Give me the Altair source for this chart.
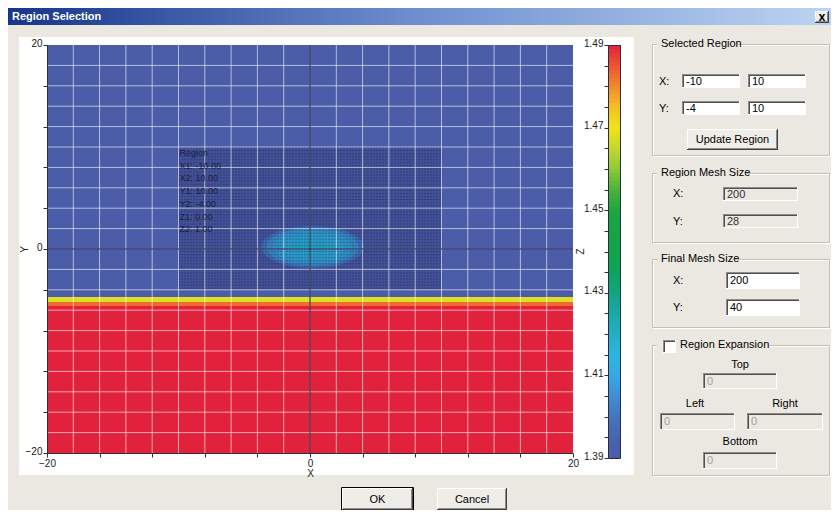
import altair as alt
import numpy as np
import pandas as pd

# ---------------- data ----------------
x_domain = [-20, 20]
y_domain = [-20, 20]
axis_ticks = list(range(-20, 21, 2))
grid_lines = list(range(-18, 19, 2))

band_top = [20, -4.7, -5.2, -5.6]
band_bottom = [-4.7, -5.2, -5.6, -20]
band_value = [1.39, 1.468, 1.483, 1.49]

blob_x = 0.2
blob_y = 0.2
blob_width = [7.8, 7.0, 6.0, 4.8, 3.4]
blob_value = [1.405, 1.409, 1.412, 1.414, 1.416]

region_x = [-10, 10]
region_y = [-4, 10]
region_z = [0, 1]
region_mesh = [200, 28]
final_mesh = [200, 40]
expansion = [0, 0, 0, 0]

cb_values = [1.390, 1.395, 1.400, 1.405, 1.410, 1.415, 1.420, 1.425, 1.430,
             1.435, 1.440, 1.450, 1.455, 1.460, 1.465, 1.470, 1.475, 1.480,
             1.485, 1.490]
cb_colors = ["#4b5ca8", "#4a64b0", "#4674c0", "#3f8ed4", "#36aae6", "#2cb4e0",
             "#22afc4", "#19a9a6", "#12a57e", "#0fa35e", "#12a34a", "#1ea441",
             "#4db23b", "#8ec83a", "#c4d92a", "#f0e31b", "#f6be25", "#f1892c",
             "#ea5634", "#e2223c"]
cb_ticks = [round(1.39 + 0.005 * i, 3) for i in range(21)]

# ---------------- style ----------------
FONT = "Liberation Sans"
BG = "#ebe8e1"
OX, OY = 47, 45          # page position of the plot origin
PW, PH = 526, 408        # plot area
ONE = alt.Data(values=[{"k": 0}])
ELLIPSE = "M -1 0 A 1 0.41 0 1 1 1 0 A 1 0.41 0 1 1 -1 0 Z"
AX = dict(zindex=1, labelFont=FONT, titleFont=FONT, labelFontSize=10,
          titleFontSize=10, titleFontWeight="normal", labelColor="#202020",
          titleColor="#202020", tickColor="#303030", domainColor="#303030",
          grid=False, tickSize=4, labelPadding=1, labelFlush=False,
          labelOverlap=False)


def rect(x1, y1, x2, y2, **mk):
    return alt.Chart(ONE).mark_rect(**mk).encode(
        x=alt.value(x1 - OX), x2=alt.value(x2 - OX),
        y=alt.value(y1 - OY), y2=alt.value(y2 - OY))


def hl(x1, x2, y, color, w=1):
    return alt.Chart(ONE).mark_rule(color=color, strokeWidth=w).encode(
        x=alt.value(x1 - OX), x2=alt.value(x2 - OX), y=alt.value(y - OY))


def vl(x, y1, y2, color, w=1):
    return alt.Chart(ONE).mark_rule(color=color, strokeWidth=w).encode(
        x=alt.value(x - OX), y=alt.value(y1 - OY), y2=alt.value(y2 - OY))


def txt(x, y, s, align="left", size=11, color="#000000", weight="normal",
        baseline="middle", font=FONT):
    return alt.Chart(ONE).mark_text(
        text=s, align=align, baseline=baseline, fontSize=size, color=color,
        fontWeight=weight, font=font).encode(
        x=alt.value(x - OX), y=alt.value(y - OY))


def sunken(x1, y1, x2, y2, fill):
    return [rect(x1, y1, x2, y2, fill=fill),
            hl(x1, x2, y1 + 0.5, "#8c8c8c"), vl(x1 + 0.5, y1, y2, "#8c8c8c"),
            hl(x1 + 1, x2 - 1, y1 + 1.5, "#505050"),
            vl(x1 + 1.5, y1 + 1, y2 - 1, "#505050"),
            hl(x1, x2, y2 - 0.5, "#ffffff"), vl(x2 - 0.5, y1, y2, "#ffffff")]


def field(x1, y1, x2, y2, s, fill="#ffffff", tcolor="#000000"):
    return sunken(x1, y1, x2, y2, fill) + [
        txt(x1 + 4, (y1 + y2) / 2 + 0.5, s, color=tcolor)]


def button(x1, y1, x2, y2, label, default=False, size=11, weight="normal",
           font=FONT):
    parts = [rect(x1, y1, x2, y2, fill="#efede7"),
             hl(x1, x2, y1 + 0.5, "#ffffff"), vl(x1 + 0.5, y1, y2, "#ffffff"),
             hl(x1, x2, y2 - 0.5, "#404040"), vl(x2 - 0.5, y1, y2, "#404040"),
             hl(x1 + 1, x2 - 1, y2 - 1.5, "#8c8c8c"),
             vl(x2 - 1.5, y1 + 1, y2 - 1, "#8c8c8c")]
    if default:
        parts.append(rect(x1 - 0.5, y1 - 0.5, x2 + 0.5, y2 + 0.5,
                          filled=False, stroke="#000000", strokeWidth=1))
    parts.append(txt((x1 + x2) / 2, (y1 + y2) / 2 + 0.5, label, align="center",
                     size=size, weight=weight, font=font))
    return parts


def group(x1, y1, x2, y2, label_w, label=None):
    parts = [rect(x1 + 1.5, y1 + 1.5, x2 + 0.5, y2 + 0.5, filled=False,
                  stroke="#ffffff"),
             rect(x1 + 0.5, y1 + 0.5, x2 - 0.5, y2 - 0.5, filled=False,
                  stroke="#c2bfb5"),
             rect(x1 + 5, y1 - 7, x1 + 5 + label_w, y1 + 7, fill=BG)]
    if label:
        parts.append(txt(x1 + 9, y1, label))
    return parts


# ---------------- user-interface chrome behind the chart ----------------
title_grad = alt.LinearGradient(
    gradient="linear", x1=0, x2=1, y1=0, y2=0,
    stops=[alt.GradientStop(color="#17358a", offset=0),
           alt.GradientStop(color="#6f8fd0", offset=0.5),
           alt.GradientStop(color="#bcd4f2", offset=1)])

back_ui = [rect(8, 8, 831, 25, fill=title_grad),
           txt(12, 17, "Region Selection", weight="bold", color="#ffffff",
               size=11),
           rect(19, 37, 634, 475, fill="#ffffff")]
back_ui += button(815, 11, 829, 23, "X", size=9, weight="bold",
                  font="DejaVu Sans")

# ---------------- main heat map ----------------
xs = alt.Scale(domain=x_domain, nice=False, zero=False)
ys = alt.Scale(domain=y_domain, nice=False, zero=False)
cs = alt.Scale(domain=cb_values, range=cb_colors, type="linear",
               interpolate="rgb")

xaxis = alt.Axis(values=axis_ticks, title="X",
                 labelExpr="datum.value % 10 == 0 ? datum.label : ''",
                 titlePadding=0, **AX)
yaxis = alt.Axis(values=axis_ticks, title="Y",
                 labelExpr="datum.value % 10 == 0 ? datum.label : ''",
                 titleX=-23, titleY=PH / 2, titleBaseline="middle",
                 labelOffset=-2, **AX)

heat_df = pd.DataFrame({"x0": x_domain[0], "x1": x_domain[1],
                        "ytop": band_top, "ybot": band_bottom,
                        "v": band_value})
heat = alt.Chart(heat_df).mark_rect().encode(
    x=alt.X("x0:Q", scale=xs, axis=xaxis), x2="x1",
    y=alt.Y("ytop:Q", scale=ys, axis=yaxis), y2="ybot",
    color=alt.Color("v:Q", scale=cs, legend=None))

blob_df = pd.DataFrame({"x": blob_x, "y": blob_y, "w": blob_width,
                        "v": blob_value})
blob = alt.Chart(blob_df).mark_point(
    shape=ELLIPSE, filled=True, opacity=0.62, strokeWidth=0).encode(
    x=alt.X("x:Q", title="X"), y=alt.Y("y:Q", title="Y"),
    size=alt.Size("w:Q", scale=alt.Scale(type="pow", exponent=2,
                                         domain=[0, 40], range=[0, PW ** 2]),
                  legend=None),
    color=alt.Color("v:Q", scale=cs, legend=None),
    order=alt.Order("w:Q", sort="descending"))

reg_df = pd.DataFrame({"x1": [region_x[0]], "x2": [region_x[1]],
                       "y1": [region_y[0]], "y2": [region_y[1]],
                       "t": ["Region\nX1: %.2f\nX2: %.2f\nY1: %.2f\nY2: %.2f\nZ1: %.2f\nZ2: %.2f"
                             % (region_x[0], region_x[1], region_y[1],
                                region_y[0], region_z[0], region_z[1])]})
overlay = alt.Chart(reg_df).mark_rect(fill="#0b1035", opacity=0.14).encode(
    x=alt.X("x1:Q", title="X"), x2="x2",
    y=alt.Y("y1:Q", title="Y"), y2="y2")

dot_rows = pd.DataFrame({"y": np.arange(region_y[0] + 0.15, region_y[1], 0.3),
                         "x1": region_x[0], "x2": region_x[1]})
dots = alt.Chart(dot_rows).mark_rule(
    strokeDash=[1, 2], color="#0d1330", strokeOpacity=0.6).encode(
    x=alt.X("x1:Q", title="X"), x2="x2", y=alt.Y("y:Q", title="Y"))

grid_df = pd.DataFrame({"g": grid_lines})
vgrid = alt.Chart(grid_df).mark_rule(color="#ffffff", opacity=0.6).encode(
    x=alt.X("g:Q", title="X"))
hgrid = alt.Chart(grid_df).mark_rule(color="#ffffff", opacity=0.6).encode(
    y=alt.Y("g:Q", title="Y"))

zero_df = pd.DataFrame({"z": [0]})
zero_v = alt.Chart(zero_df).mark_rule(color="#111430").encode(
    x=alt.X("z:Q", title="X"))
zero_h = alt.Chart(zero_df).mark_rule(color="#111430").encode(
    y=alt.Y("z:Q", title="Y"))

label = alt.Chart(reg_df).mark_text(
    align="left", baseline="top", lineBreak="\n", lineHeight=12.7,
    fontSize=9, font=FONT, color="#1c2040", dx=1, dy=2).encode(
    x=alt.X("x1:Q", title="X"), y=alt.Y("y2:Q", title="Y"), text="t:N")

inner = alt.layer(heat, blob, overlay, dots, vgrid, hgrid, zero_v, zero_h,
                  label)

# ---------------- colour bar ----------------
lo = np.round(np.arange(cb_values[0], cb_values[-1], 0.001), 4)
cb_df = pd.DataFrame({"lo": lo,
                      "hi": np.minimum(lo + 0.0012, cb_values[-1]),
                      "mid": lo + 0.0005})
cbaxis = alt.Axis(orient="left", offset=-561, values=cb_ticks, format=".2f",
                  labelExpr="round(datum.value * 1000) % 20 == 10 ? datum.label : ''",
                  domain=False, title="Z", titleX=-28, titleY=206,
                  titleBaseline="middle", labelOffset=-2, **AX)
colorbar = alt.Chart(cb_df).mark_rect().encode(
    x=alt.value(608 - OX), x2=alt.value(621 - OX),
    y=alt.Y("lo:Q", scale=alt.Scale(domain=[cb_values[0], cb_values[-1]],
                                    range=[413, 0], nice=False, zero=False),
            axis=cbaxis),
    y2="hi",
    color=alt.Color("mid:Q", scale=cs, legend=None))
cb_frame = rect(608.5, 45.5, 620.5, 458.5, filled=False, stroke="#2a2a40")

# ---------------- dialog controls ----------------
front = []
front += group(652, 44, 830, 156, 80, "Selected Region")
front += [txt(659, 82, "X:"), txt(659, 109, "Y:")]
front += field(682, 74, 740, 88, "%g" % region_x[0])
front += field(748, 74, 806, 88, "%g" % region_x[1])
front += field(682, 101, 740, 115, "%g" % region_y[0])
front += field(748, 101, 806, 115, "%g" % region_y[1])
front += button(687, 129, 778, 150, "Update Region")

front += group(652, 173, 830, 243, 88, "Region Mesh Size")
front += [txt(673, 194, "X:"), txt(673, 222, "Y:")]
front += field(723, 187, 798, 201, str(region_mesh[0]), fill=BG,
               tcolor="#303030")
front += field(723, 214, 798, 228, str(region_mesh[1]), fill=BG,
               tcolor="#303030")

front += group(652, 259, 830, 328, 78, "Final Mesh Size")
front += [txt(673, 281, "X:"), txt(673, 308, "Y:")]
front += field(726, 272, 800, 289, str(final_mesh[0]))
front += field(726, 299, 800, 316, str(final_mesh[1]))

front += group(652, 345, 830, 476, 112)
front += sunken(663, 340, 676, 353, "#ffffff")
front += [txt(680, 345, "Region Expansion")]
front += [txt(740, 365, "Top", align="center"),
          txt(695, 404, "Left", align="center"),
          txt(785, 404, "Right", align="center"),
          txt(740, 442, "Bottom", align="center")]
front += field(703, 373, 777, 389, str(expansion[0]), fill=BG, tcolor="#a0a0a0")
front += field(660, 413, 735, 430, str(expansion[1]), fill=BG, tcolor="#a0a0a0")
front += field(747, 413, 823, 430, str(expansion[2]), fill=BG, tcolor="#a0a0a0")
front += field(703, 452, 777, 469, str(expansion[3]), fill=BG, tcolor="#a0a0a0")

front += button(342, 488, 413, 510, "OK", default=True)
front += button(437, 488, 507, 510, "Cancel")

chart = alt.layer(*back_ui, inner, colorbar, cb_frame, *front).resolve_scale(
    y="independent"
).properties(
    width=PW, height=PH,
    padding={"left": OX - 8, "top": OY - 8, "right": 823 - (OX - 8) - PW,
             "bottom": 502 - (OY - 8) - PH},
    autosize=alt.AutoSizeParams(type="none"),
    background=BG,
).configure_view(stroke=None)

chart.save("out.html", embed_options={"renderer": "svg", "actions": False})
